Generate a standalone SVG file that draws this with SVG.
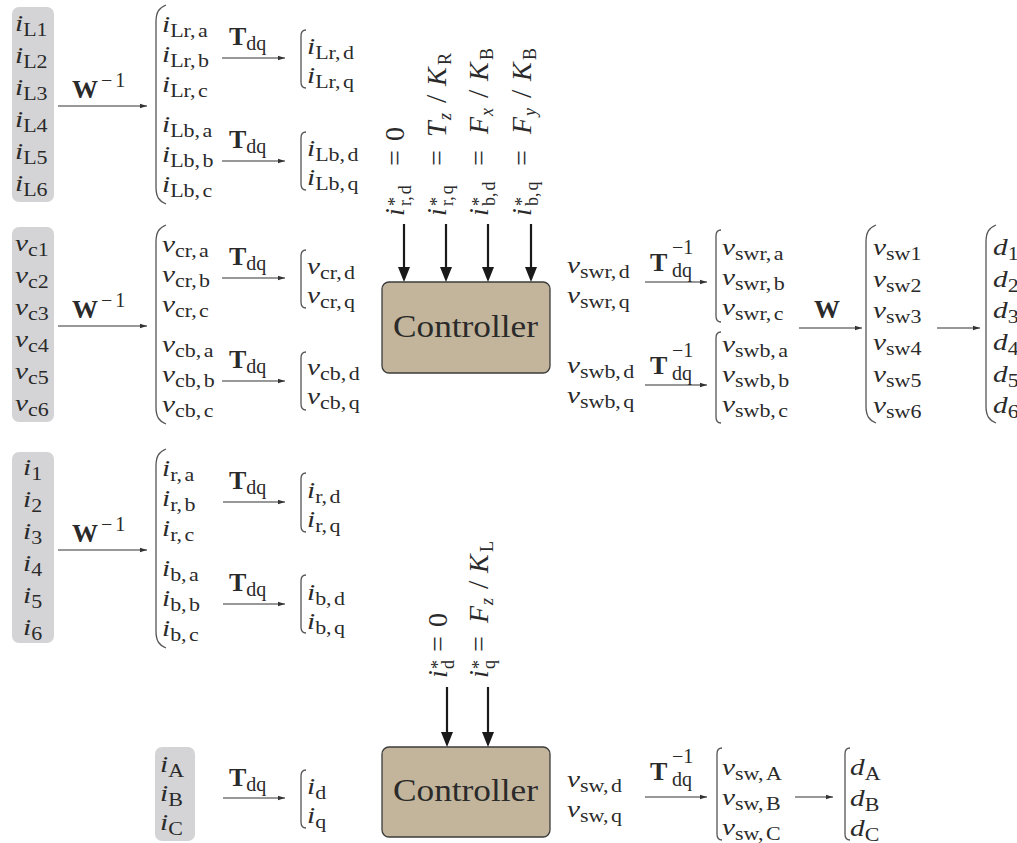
<svg xmlns="http://www.w3.org/2000/svg" width="1017" height="843" viewBox="0 0 1017 843">
<style>
.t{font-family:"Liberation Serif","Times New Roman",serif;font-size:24px;font-style:italic;fill:#2a2a2a}
.s{font-size:18px;font-style:normal;font-weight:normal}
.si{font-size:18px;font-style:italic;font-weight:normal}
.n{font-style:normal}
.sl{font-style:normal;font-size:30px}
.b{font-family:"Liberation Serif","Times New Roman",serif;font-weight:bold;font-size:26px;fill:#2a2a2a}
.b .s{font-size:20px}
.r{font-family:"Liberation Serif","Times New Roman",serif;font-size:28px;font-style:italic;fill:#2a2a2a}
.c{font-family:"Liberation Serif","Times New Roman",serif;font-size:31px;fill:#2a2a2a}
.gb{fill:#d4d4d6}
.ctl{fill:#c2b59b;stroke:#3c3c3c;stroke-width:1.3}
.ln{stroke:#333;stroke-width:1.2;fill:none;marker-end:url(#a)}
.tk{stroke:#1a1a1a;stroke-width:2.2;fill:none;marker-end:url(#A)}
.br{stroke:#555;stroke-width:1.3;fill:none}
</style>
<defs>
<marker id="a" markerUnits="userSpaceOnUse" markerWidth="8" markerHeight="6" refX="7.5" refY="3" orient="auto"><path d="M0,0.6 L7.5,3 L0,5.4 Z" fill="#333"/></marker>
<marker id="A" markerUnits="userSpaceOnUse" markerWidth="15" markerHeight="12" refX="5" refY="6" orient="auto"><path d="M0,0 L15,6 L0,12 Z" fill="#1a1a1a"/></marker>
</defs>

<!-- Block 1: inductor currents -->
<g id="in-iL">
<rect class="gb" x="12" y="7" width="42" height="195" rx="7"/>
<text class="t" transform="matrix(1.22 0 0 1 15 31)">i<tspan class="s" dy="5">L1</tspan></text>
<text class="t" transform="matrix(1.22 0 0 1 15 63)">i<tspan class="s" dy="5">L2</tspan></text>
<text class="t" transform="matrix(1.22 0 0 1 15 95)">i<tspan class="s" dy="5">L3</tspan></text>
<text class="t" transform="matrix(1.22 0 0 1 15 127)">i<tspan class="s" dy="5">L4</tspan></text>
<text class="t" transform="matrix(1.22 0 0 1 15 159)">i<tspan class="s" dy="5">L5</tspan></text>
<text class="t" transform="matrix(1.22 0 0 1 15 191)">i<tspan class="s" dy="5">L6</tspan></text>
</g>
<g id="abc-iL">
<path class="br" d="M166,5 C159,8 156,12 156,22 L156,187 C156,197 159,201 166,204"/>
<text class="t" transform="matrix(1.22 0 0 1 162 32)">i<tspan class="s" dy="5">Lr,<tspan dx="2">a</tspan></tspan></text>
<text class="t" transform="matrix(1.22 0 0 1 162 62)">i<tspan class="s" dy="5">Lr,<tspan dx="2">b</tspan></tspan></text>
<text class="t" transform="matrix(1.22 0 0 1 162 92)">i<tspan class="s" dy="5">Lr,<tspan dx="2">c</tspan></tspan></text>
<text class="t" transform="matrix(1.22 0 0 1 162 132)">i<tspan class="s" dy="5">Lb,<tspan dx="2">a</tspan></tspan></text>
<text class="t" transform="matrix(1.22 0 0 1 162 162)">i<tspan class="s" dy="5">Lb,<tspan dx="2">b</tspan></tspan></text>
<text class="t" transform="matrix(1.22 0 0 1 162 192)">i<tspan class="s" dy="5">Lb,<tspan dx="2">c</tspan></tspan></text>
</g>
<g id="dq-iLr">
<path class="br" d="M306,30 C302,30 301,32 301,36 L301,82 C301,86 302,88 306,88"/>
<text class="t" transform="matrix(1.22 0 0 1 307 54)">i<tspan class="s" dy="5">Lr,<tspan dx="2">d</tspan></tspan></text>
<text class="t" transform="matrix(1.22 0 0 1 307 83)">i<tspan class="s" dy="5">Lr,<tspan dx="2">q</tspan></tspan></text>
</g>
<g id="dq-iLb">
<path class="br" d="M306,132 C302,132 301,134 301,138 L301,184 C301,188 302,190 306,190"/>
<text class="t" transform="matrix(1.22 0 0 1 307 156)">i<tspan class="s" dy="5">Lb,<tspan dx="2">d</tspan></tspan></text>
<text class="t" transform="matrix(1.22 0 0 1 307 185)">i<tspan class="s" dy="5">Lb,<tspan dx="2">q</tspan></tspan></text>
</g>

<!-- Block 2: capacitor voltages -->
<g id="in-vc">
<rect class="gb" x="12" y="227" width="42" height="195" rx="7"/>
<text class="t" transform="matrix(1.22 0 0 1 15 251)">v<tspan class="s" dy="5">c1</tspan></text>
<text class="t" transform="matrix(1.22 0 0 1 15 283)">v<tspan class="s" dy="5">c2</tspan></text>
<text class="t" transform="matrix(1.22 0 0 1 15 315)">v<tspan class="s" dy="5">c3</tspan></text>
<text class="t" transform="matrix(1.22 0 0 1 15 347)">v<tspan class="s" dy="5">c4</tspan></text>
<text class="t" transform="matrix(1.22 0 0 1 15 379)">v<tspan class="s" dy="5">c5</tspan></text>
<text class="t" transform="matrix(1.22 0 0 1 15 411)">v<tspan class="s" dy="5">c6</tspan></text>
</g>
<g id="abc-vc">
<path class="br" d="M166,225 C159,228 156,232 156,242 L156,407 C156,417 159,421 166,424"/>
<text class="t" transform="matrix(1.22 0 0 1 162 252)">v<tspan class="s" dy="5">cr,<tspan dx="2">a</tspan></tspan></text>
<text class="t" transform="matrix(1.22 0 0 1 162 282)">v<tspan class="s" dy="5">cr,<tspan dx="2">b</tspan></tspan></text>
<text class="t" transform="matrix(1.22 0 0 1 162 312)">v<tspan class="s" dy="5">cr,<tspan dx="2">c</tspan></tspan></text>
<text class="t" transform="matrix(1.22 0 0 1 162 352)">v<tspan class="s" dy="5">cb,<tspan dx="2">a</tspan></tspan></text>
<text class="t" transform="matrix(1.22 0 0 1 162 382)">v<tspan class="s" dy="5">cb,<tspan dx="2">b</tspan></tspan></text>
<text class="t" transform="matrix(1.22 0 0 1 162 412)">v<tspan class="s" dy="5">cb,<tspan dx="2">c</tspan></tspan></text>
</g>
<g id="dq-vcr">
<path class="br" d="M306,250 C302,250 301,252 301,256 L301,302 C301,306 302,308 306,308"/>
<text class="t" transform="matrix(1.22 0 0 1 307 274)">v<tspan class="s" dy="5">cr,<tspan dx="2">d</tspan></tspan></text>
<text class="t" transform="matrix(1.22 0 0 1 307 303)">v<tspan class="s" dy="5">cr,<tspan dx="2">q</tspan></tspan></text>
</g>
<g id="dq-vcb">
<path class="br" d="M306,352 C302,352 301,354 301,358 L301,404 C301,408 302,410 306,410"/>
<text class="t" transform="matrix(1.22 0 0 1 307 375)">v<tspan class="s" dy="5">cb,<tspan dx="2">d</tspan></tspan></text>
<text class="t" transform="matrix(1.22 0 0 1 307 404)">v<tspan class="s" dy="5">cb,<tspan dx="2">q</tspan></tspan></text>
</g>

<!-- Block 3: currents -->
<g id="in-i">
<rect class="gb" x="12" y="452" width="42" height="191" rx="7"/>
<text class="t" transform="matrix(1.22 0 0 1 23 475)">i<tspan class="s" dy="5">1</tspan></text>
<text class="t" transform="matrix(1.22 0 0 1 23 507)">i<tspan class="s" dy="5">2</tspan></text>
<text class="t" transform="matrix(1.22 0 0 1 23 539)">i<tspan class="s" dy="5">3</tspan></text>
<text class="t" transform="matrix(1.22 0 0 1 23 571)">i<tspan class="s" dy="5">4</tspan></text>
<text class="t" transform="matrix(1.22 0 0 1 23 603)">i<tspan class="s" dy="5">5</tspan></text>
<text class="t" transform="matrix(1.22 0 0 1 23 635)">i<tspan class="s" dy="5">6</tspan></text>
</g>
<g id="abc-i">
<path class="br" d="M166,449 C159,452 156,456 156,466 L156,631 C156,641 159,645 166,648"/>
<text class="t" transform="matrix(1.22 0 0 1 162 476)">i<tspan class="s" dy="5">r,<tspan dx="2">a</tspan></tspan></text>
<text class="t" transform="matrix(1.22 0 0 1 162 506)">i<tspan class="s" dy="5">r,<tspan dx="2">b</tspan></tspan></text>
<text class="t" transform="matrix(1.22 0 0 1 162 536)">i<tspan class="s" dy="5">r,<tspan dx="2">c</tspan></tspan></text>
<text class="t" transform="matrix(1.22 0 0 1 162 576)">i<tspan class="s" dy="5">b,<tspan dx="2">a</tspan></tspan></text>
<text class="t" transform="matrix(1.22 0 0 1 162 606)">i<tspan class="s" dy="5">b,<tspan dx="2">b</tspan></tspan></text>
<text class="t" transform="matrix(1.22 0 0 1 162 636)">i<tspan class="s" dy="5">b,<tspan dx="2">c</tspan></tspan></text>
</g>
<g id="dq-ir">
<path class="br" d="M306,473 C302,473 301,475 301,479 L301,526 C301,530 302,532 306,532"/>
<text class="t" transform="matrix(1.22 0 0 1 307 498)">i<tspan class="s" dy="5">r,<tspan dx="2">d</tspan></tspan></text>
<text class="t" transform="matrix(1.22 0 0 1 307 527)">i<tspan class="s" dy="5">r,<tspan dx="2">q</tspan></tspan></text>
</g>
<g id="dq-ib">
<path class="br" d="M306,575 C302,575 301,577 301,581 L301,627 C301,631 302,633 306,633"/>
<text class="t" transform="matrix(1.22 0 0 1 307 600)">i<tspan class="s" dy="5">b,<tspan dx="2">d</tspan></tspan></text>
<text class="t" transform="matrix(1.22 0 0 1 307 629)">i<tspan class="s" dy="5">b,<tspan dx="2">q</tspan></tspan></text>
</g>

<!-- Controller 1 -->
<g id="controller-1">
<rect class="ctl" x="382" y="282" width="168" height="91" rx="7"/>
<text class="c" x="393" y="337" textLength="145" lengthAdjust="spacingAndGlyphs">Controller</text>
</g>
<g id="ref-1">
<text class="r" transform="translate(404,218) rotate(-90)"><tspan x="2">i</tspan><tspan class="s" x="12" dy="-3">*</tspan><tspan class="s" x="12" dy="10">r,<tspan dx="2">d</tspan></tspan><tspan class="n" x="52" dy="-7">=</tspan><tspan class="n" x="77">0</tspan></text>
<text class="r" transform="translate(446,218) rotate(-90)"><tspan x="2">i</tspan><tspan class="s" x="12" dy="-3">*</tspan><tspan class="s" x="12" dy="10">r,<tspan dx="2">q</tspan></tspan><tspan class="n" x="52" dy="-7">=</tspan><tspan x="81">T</tspan><tspan class="si" x="98" dy="5">z</tspan><tspan class="sl" x="115" dy="-5">/</tspan><tspan x="132">K</tspan><tspan class="s" x="153" dy="5">R</tspan></text>
<text class="r" transform="translate(488,218) rotate(-90)"><tspan x="2">i</tspan><tspan class="s" x="12" dy="-3">*</tspan><tspan class="s" x="12" dy="10">b,<tspan dx="2">d</tspan></tspan><tspan class="n" x="52" dy="-7">=</tspan><tspan x="84">F</tspan><tspan class="si" x="102" dy="5">x</tspan><tspan class="sl" x="120" dy="-5">/</tspan><tspan x="137">K</tspan><tspan class="s" x="158" dy="5">B</tspan></text>
<text class="r" transform="translate(531,218) rotate(-90)"><tspan x="2">i</tspan><tspan class="s" x="12" dy="-3">*</tspan><tspan class="s" x="12" dy="10">b,<tspan dx="2">q</tspan></tspan><tspan class="n" x="52" dy="-7">=</tspan><tspan x="84">F</tspan><tspan class="si" x="102" dy="5">y</tspan><tspan class="sl" x="120" dy="-5">/</tspan><tspan x="137">K</tspan><tspan class="s" x="158" dy="5">B</tspan></text>
</g>
<g id="out-dq-r">
<text class="t" transform="matrix(1.22 0 0 1 567 273)">v<tspan class="s" dy="5">swr,<tspan dx="2">d</tspan></tspan></text>
<text class="t" transform="matrix(1.22 0 0 1 567 303)">v<tspan class="s" dy="5">swr,<tspan dx="2">q</tspan></tspan></text>
</g>
<g id="out-dq-b">
<text class="t" transform="matrix(1.22 0 0 1 567 373)">v<tspan class="s" dy="5">swb,<tspan dx="2">d</tspan></tspan></text>
<text class="t" transform="matrix(1.22 0 0 1 567 403)">v<tspan class="s" dy="5">swb,<tspan dx="2">q</tspan></tspan></text>
</g>
<g id="out-abc-r">
<path class="br" d="M721,230 C717,230 716,232 716,236 L716,316 C716,320 717,322 721,322"/>
<text class="t" transform="matrix(1.22 0 0 1 722 255)">v<tspan class="s" dy="5">swr,<tspan dx="2">a</tspan></tspan></text>
<text class="t" transform="matrix(1.22 0 0 1 722 285)">v<tspan class="s" dy="5">swr,<tspan dx="2">b</tspan></tspan></text>
<text class="t" transform="matrix(1.22 0 0 1 722 315)">v<tspan class="s" dy="5">swr,<tspan dx="2">c</tspan></tspan></text>
</g>
<g id="out-abc-b">
<path class="br" d="M721,332 C717,332 716,334 716,338 L716,417 C716,421 717,423 721,423"/>
<text class="t" transform="matrix(1.22 0 0 1 722 352)">v<tspan class="s" dy="5">swb,<tspan dx="2">a</tspan></tspan></text>
<text class="t" transform="matrix(1.22 0 0 1 722 382)">v<tspan class="s" dy="5">swb,<tspan dx="2">b</tspan></tspan></text>
<text class="t" transform="matrix(1.22 0 0 1 722 412)">v<tspan class="s" dy="5">swb,<tspan dx="2">c</tspan></tspan></text>
</g>
<g id="out-vsw">
<path class="br" d="M876,225 C869,228 866,232 866,242 L866,406 C866,416 869,420 876,423"/>
<text class="t" transform="matrix(1.22 0 0 1 873 255)">v<tspan class="s" dy="5">sw1</tspan></text>
<text class="t" transform="matrix(1.22 0 0 1 873 287)">v<tspan class="s" dy="5">sw2</tspan></text>
<text class="t" transform="matrix(1.22 0 0 1 873 318)">v<tspan class="s" dy="5">sw3</tspan></text>
<text class="t" transform="matrix(1.22 0 0 1 873 350)">v<tspan class="s" dy="5">sw4</tspan></text>
<text class="t" transform="matrix(1.22 0 0 1 873 382)">v<tspan class="s" dy="5">sw5</tspan></text>
<text class="t" transform="matrix(1.22 0 0 1 873 413)">v<tspan class="s" dy="5">sw6</tspan></text>
</g>
<g id="out-d">
<path class="br" d="M996,225 C989,228 986,232 986,242 L986,406 C986,416 989,420 996,423"/>
<text class="t" transform="matrix(1.22 0 0 1 993 255)">d<tspan class="s" dy="5">1</tspan></text>
<text class="t" transform="matrix(1.22 0 0 1 993 287)">d<tspan class="s" dy="5">2</tspan></text>
<text class="t" transform="matrix(1.22 0 0 1 993 318)">d<tspan class="s" dy="5">3</tspan></text>
<text class="t" transform="matrix(1.22 0 0 1 993 350)">d<tspan class="s" dy="5">4</tspan></text>
<text class="t" transform="matrix(1.22 0 0 1 993 382)">d<tspan class="s" dy="5">5</tspan></text>
<text class="t" transform="matrix(1.22 0 0 1 993 413)">d<tspan class="s" dy="5">6</tspan></text>
</g>

<!-- Bottom: single converter -->
<g id="in-iABC">
<rect class="gb" x="155" y="747" width="40" height="94" rx="7"/>
<text class="t" transform="matrix(1.22 0 0 1 160 772)">i<tspan class="s" dy="5">A</tspan></text>
<text class="t" transform="matrix(1.22 0 0 1 160 801)">i<tspan class="s" dy="5">B</tspan></text>
<text class="t" transform="matrix(1.22 0 0 1 160 830)">i<tspan class="s" dy="5">C</tspan></text>
</g>
<g id="dq-i">
<path class="br" d="M306,770 C302,770 301,772 301,776 L301,822 C301,826 302,828 306,828"/>
<text class="t" transform="matrix(1.22 0 0 1 307 794)">i<tspan class="s" dy="5">d</tspan></text>
<text class="t" transform="matrix(1.22 0 0 1 307 823)">i<tspan class="s" dy="5">q</tspan></text>
</g>
<g id="controller-2">
<rect class="ctl" x="382" y="747" width="168" height="90" rx="7"/>
<text class="c" x="393" y="801" textLength="145" lengthAdjust="spacingAndGlyphs">Controller</text>
</g>
<g id="ref-2">
<text class="r" transform="translate(447,680) rotate(-90)"><tspan x="2">i</tspan><tspan class="s" x="11" dy="-3">*</tspan><tspan class="s" x="11" dy="10">d</tspan><tspan class="n" x="28" dy="-7">=</tspan><tspan class="n" x="53">0</tspan></text>
<text class="r" transform="translate(488,680) rotate(-90)"><tspan x="2">i</tspan><tspan class="s" x="11" dy="-3">*</tspan><tspan class="s" x="11" dy="10">q</tspan><tspan class="n" x="28" dy="-7">=</tspan><tspan x="57">F</tspan><tspan class="si" x="75" dy="5">z</tspan><tspan class="sl" x="91" dy="-5">/</tspan><tspan x="107">K</tspan><tspan class="s" x="128" dy="5">L</tspan></text>
</g>
<g id="out-dq">
<text class="t" transform="matrix(1.22 0 0 1 567 787)">v<tspan class="s" dy="5">sw,<tspan dx="2">d</tspan></tspan></text>
<text class="t" transform="matrix(1.22 0 0 1 567 817)">v<tspan class="s" dy="5">sw,<tspan dx="2">q</tspan></tspan></text>
</g>
<g id="out-abc">
<path class="br" d="M722,748 C718,748 717,750 717,754 L717,834 C717,838 718,840 722,840"/>
<text class="t" transform="matrix(1.22 0 0 1 722 775)">v<tspan class="s" dy="5">sw,<tspan dx="2">A</tspan></tspan></text>
<text class="t" transform="matrix(1.22 0 0 1 722 805)">v<tspan class="s" dy="5">sw,<tspan dx="2">B</tspan></tspan></text>
<text class="t" transform="matrix(1.22 0 0 1 722 835)">v<tspan class="s" dy="5">sw,<tspan dx="2">C</tspan></tspan></text>
</g>
<g id="out-dABC">
<path class="br" d="M850,748 C846,748 845,750 845,754 L845,834 C845,838 846,840 850,840"/>
<text class="t" transform="matrix(1.22 0 0 1 850 775)">d<tspan class="s" dy="5">A</tspan></text>
<text class="t" transform="matrix(1.22 0 0 1 850 806)">d<tspan class="s" dy="5">B</tspan></text>
<text class="t" transform="matrix(1.22 0 0 1 850 836)">d<tspan class="s" dy="5">C</tspan></text>
</g>

<!-- Connectors -->
<g id="connectors">
<line class="ln" x1="58" y1="106" x2="147" y2="106"/>
<line class="ln" x1="58" y1="326" x2="147" y2="326"/>
<line class="ln" x1="58" y1="550" x2="147" y2="550"/>
<line class="ln" x1="222" y1="58" x2="285" y2="58"/>
<line class="ln" x1="222" y1="161" x2="285" y2="161"/>
<line class="ln" x1="222" y1="278" x2="285" y2="278"/>
<line class="ln" x1="222" y1="381" x2="285" y2="381"/>
<line class="ln" x1="223" y1="502" x2="285" y2="502"/>
<line class="ln" x1="223" y1="604" x2="285" y2="604"/>
<line class="ln" x1="223" y1="798" x2="285" y2="798"/>
<line class="ln" x1="645" y1="282" x2="707" y2="282"/>
<line class="ln" x1="645" y1="385" x2="707" y2="385"/>
<line class="ln" x1="645" y1="797" x2="707" y2="797"/>
<line class="ln" x1="799" y1="328" x2="862" y2="328"/>
<line class="ln" x1="937" y1="328" x2="980" y2="328"/>
<line class="ln" x1="795" y1="797" x2="833" y2="797"/>
<line class="tk" x1="404" y1="224" x2="404" y2="272"/>
<line class="tk" x1="446" y1="224" x2="446" y2="272"/>
<line class="tk" x1="488" y1="224" x2="488" y2="272"/>
<line class="tk" x1="531" y1="224" x2="531" y2="272"/>
<line class="tk" x1="447" y1="687" x2="447" y2="737"/>
<line class="tk" x1="488" y1="687" x2="488" y2="737"/>
<text class="b" x="72" y="98">W<tspan class="s" dx="3" dy="-11">−</tspan><tspan class="s" dx="3">1</tspan></text>
<text class="b" x="72" y="318">W<tspan class="s" dx="3" dy="-11">−</tspan><tspan class="s" dx="3">1</tspan></text>
<text class="b" x="72" y="542">W<tspan class="s" dx="3" dy="-11">−</tspan><tspan class="s" dx="3">1</tspan></text>
<text class="b" x="229" y="45">T<tspan class="s" dy="5">dq</tspan></text>
<text class="b" x="229" y="148">T<tspan class="s" dy="5">dq</tspan></text>
<text class="b" x="229" y="265">T<tspan class="s" dy="5">dq</tspan></text>
<text class="b" x="229" y="368">T<tspan class="s" dy="5">dq</tspan></text>
<text class="b" x="229" y="489">T<tspan class="s" dy="5">dq</tspan></text>
<text class="b" x="229" y="591">T<tspan class="s" dy="5">dq</tspan></text>
<text class="b" x="229" y="786">T<tspan class="s" dy="5">dq</tspan></text>
<text class="b" x="650" y="271">T<tspan class="s" x="672" dy="-17">−1</tspan><tspan class="s" x="672" dy="23">dq</tspan></text>
<text class="b" x="650" y="374">T<tspan class="s" x="672" dy="-17">−1</tspan><tspan class="s" x="672" dy="23">dq</tspan></text>
<text class="b" x="650" y="780">T<tspan class="s" x="672" dy="-17">−1</tspan><tspan class="s" x="672" dy="23">dq</tspan></text>
<text class="b" x="814" y="318">W</text>
</g>
</svg>
